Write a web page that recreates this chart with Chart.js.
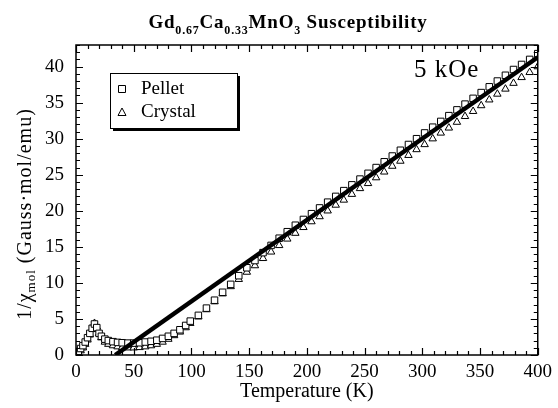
<!DOCTYPE html>
<html>
<head>
<meta charset="utf-8">
<script src="https://cdn.jsdelivr.net/npm/chart.js@4/dist/chart.umd.min.js"></script>
<style>
  html, body { margin: 0; padding: 0; background: #fff; }
</style>
</head>
<body>
<canvas id="chi" width="558" height="408"></canvas>
<script>
// temperature grid (K)
const temps = [1, 2, 4, 6, 8, 10, 12, 14, 16, 18, 20, 22, 25, 28, 32, 36, 40, 45, 50, 55, 60, 65, 70, 75, 80, 85, 90, 95,
  99, 106, 113, 120, 127, 134, 141, 148, 155, 162, 169, 176, 183, 190, 197, 204, 211, 218, 225, 232, 239, 246,
  253, 260, 267, 274, 281, 288, 295, 302, 309, 316, 323, 330, 337, 344, 351, 358, 365, 372, 379, 386, 393, 400];

// 1/chi_mol for the pellet sample
const pelletInv = [0.4, 0.5, 0.9, 1.3, 1.8, 2.4, 3.0, 3.7, 4.3, 3.8, 3.0, 2.6, 2.2, 2.0, 1.85, 1.75, 1.7, 1.65, 1.65, 1.7, 1.8, 1.9, 2.05, 2.3, 2.6, 3.0, 3.5, 4.1,
  4.7, 5.5, 6.5, 7.6, 8.7, 9.8, 11.0, 12.1, 13.1, 14.2, 15.2, 16.2, 17.1, 18.0, 18.8, 19.6, 20.4, 21.2, 22.0, 22.8, 23.6, 24.4,
  25.2, 26.0, 26.8, 27.6, 28.4, 29.2, 30.0, 30.8, 31.6, 32.4, 33.2, 34.0, 34.8, 35.6, 36.4, 37.2, 38.0, 38.8, 39.6, 40.3, 41.0, 41.8];

// 1/chi_mol for the crystal sample
const crystalInv = [0.2, 0.3, 0.6, 1.0, 1.5, 2.1, 2.8, 3.6, 4.4, 3.9, 3.0, 2.4, 1.8, 1.5, 1.3, 1.15, 1.05, 1.0, 1.0, 1.05, 1.15, 1.3, 1.5, 1.8, 2.2, 2.7, 3.2, 3.8,
  4.4, 5.3, 6.3, 7.4, 8.5, 9.5, 10.5, 11.5, 12.4, 13.4, 14.3, 15.2, 16.1, 16.9, 17.7, 18.5, 19.2, 20.0, 20.8, 21.5, 22.3, 23.1,
  23.8, 24.6, 25.4, 26.2, 26.9, 27.7, 28.5, 29.2, 30.0, 30.8, 31.5, 32.3, 33.1, 33.8, 34.6, 35.4, 36.2, 36.9, 37.7, 38.5, 39.2, 40.0];

// Curie-Weiss fit line end points
const fitT = [34, 400];
const fitInv = [0, 41.3];

const xTicks = [0, 50, 100, 150, 200, 250, 300, 350, 400];
const yTicks = [0, 5, 10, 15, 20, 25, 30, 35, 40];

const FONT = "'Liberation Serif', 'Times New Roman', serif";

const toPts = (xs, ys) => xs.map((t, i) => ({ x: t, y: ys[i] }));

// draws pieces of text, some of them as subscripts, centred on cx
function drawParts(ctx, parts, cx, base, bigFont, smallFont, drop, spacing) {
  ctx.letterSpacing = spacing + 'px';
  let w = 0;
  parts.forEach(p => { ctx.font = p[1] ? smallFont : bigFont; w += ctx.measureText(p[0]).width; });
  let px = cx - w / 2;
  parts.forEach(p => {
    ctx.font = p[1] ? smallFont : bigFont;
    ctx.fillText(p[0], px, p[1] ? base + drop : base);
    px += ctx.measureText(p[0]).width;
  });
  ctx.letterSpacing = '0px';
}

// frame, inside ticks, title, y title, legend, field label
const decor = {
  id: 'decor',
  afterDraw(chart) {
    const { ctx, chartArea: a, scales: { x, y } } = chart;
    ctx.save();
    ctx.strokeStyle = '#000';
    ctx.fillStyle = '#000';

    // ticks on all four sides
    ctx.lineWidth = 1.2;
    ctx.beginPath();
    for (let t = 0; t <= 400; t += 10) {
      const px = Math.round(x.getPixelForValue(t)) + 0.5;
      const len = t % 50 === 0 ? 7 : 4;
      ctx.moveTo(px, a.bottom); ctx.lineTo(px, a.bottom - len);
      ctx.moveTo(px, a.top); ctx.lineTo(px, a.top + len);
    }
    for (let v = 0; v <= 43; v++) {
      const py = Math.round(y.getPixelForValue(v)) + 0.5;
      const len = v % 5 === 0 ? 7 : 4;
      ctx.moveTo(a.left, py); ctx.lineTo(a.left + len, py);
      ctx.moveTo(a.right, py); ctx.lineTo(a.right - len, py);
    }
    ctx.stroke();
    ctx.lineWidth = 1.5;
    ctx.strokeRect(a.left, a.top, a.right - a.left, a.bottom - a.top);

    // title with subscripts
    ctx.textBaseline = 'alphabetic';
    ctx.textAlign = 'left';
    drawParts(ctx,
      [['Gd', 0], ['0.67', 1], ['Ca', 0], ['0.33', 1], ['MnO', 0], ['3', 1], [' Susceptibility', 0]],
      288, 28, 'bold 19px ' + FONT, 'bold 12px ' + FONT, 6, 0.8);

    // y axis title, rotated
    ctx.save();
    ctx.translate(31, 214);
    ctx.rotate(-Math.PI / 2);
    drawParts(ctx, [['1/\u03c7', 0], ['mol', 1], [' (Gauss\u00b7mol/emu)', 0]],
      0, 0, '20px ' + FONT, '13px ' + FONT, 4, 1);
    ctx.restore();

    // legend box with drop shadow
    const lx = 110, ly = 73, lw = 127, lh = 55;
    ctx.fillStyle = '#000';
    ctx.fillRect(lx + 3, ly + 3, lw, lh);
    ctx.fillStyle = '#fff';
    ctx.fillRect(lx, ly, lw, lh);
    ctx.lineWidth = 1;
    ctx.strokeRect(lx + 0.5, ly + 0.5, lw, lh);
    ctx.beginPath();
    ctx.rect(118.5, 85.5, 7, 7);
    ctx.moveTo(122, 108); ctx.lineTo(126, 115.5); ctx.lineTo(118, 115.5); ctx.closePath();
    ctx.stroke();
    ctx.fillStyle = '#000';
    ctx.font = '19px ' + FONT;
    ctx.textBaseline = 'middle';
    ctx.fillText('Pellet', 141, 89);
    ctx.fillText('Crystal', 141, 112);

    ctx.letterSpacing = '1px';
    ctx.font = '25px ' + FONT;
    ctx.fillText('5 kOe', 414, 70);
    ctx.letterSpacing = '0px';
    ctx.restore();
  }
};

new Chart(document.getElementById('chi'), {
  type: 'scatter',
  data: {
    datasets: [
      {
        label: 'Fit',
        type: 'line',
        data: toPts(fitT, fitInv),
        borderColor: '#000',
        borderWidth: 4.5,
        pointRadius: 0,
        order: 0
      },
      {
        label: 'Pellet',
        data: toPts(temps, pelletInv),
        pointStyle: 'rect',
        pointRadius: 4.6,
        backgroundColor: '#fff',
        borderColor: '#000',
        borderWidth: 1,
        order: 1
      },
      {
        label: 'Crystal',
        data: toPts(temps, crystalInv),
        pointStyle: 'triangle',
        pointRadius: 4.3,
        backgroundColor: '#fff',
        borderColor: '#000',
        borderWidth: 1,
        order: 2
      }
    ]
  },
  options: {
    responsive: false,
    animation: false,
    layout: { padding: { top: 45, right: 17, left: 0, bottom: 0 } },
    plugins: {
      legend: { display: false },
      tooltip: { enabled: false },
      title: { display: false }
    },
    scales: {
      x: {
        type: 'linear',
        min: 0,
        max: 400,
        afterBuildTicks: s => { s.ticks = xTicks.map(v => ({ value: v })); },
        afterFit: s => { s.height = 53; },
        grid: { display: false, drawTicks: false },
        border: { display: false },
        ticks: { color: '#000', font: { family: FONT, size: 19 }, padding: 6, maxRotation: 0, autoSkip: false },
        title: { display: true, text: 'Temperature (K)', color: '#000', font: { family: FONT, size: 20 }, padding: { top: 0, bottom: 4 } }
      },
      y: {
        type: 'linear',
        min: 0,
        max: 43,
        afterBuildTicks: s => { s.ticks = yTicks.map(v => ({ value: v })); },
        afterFit: s => { s.width = 76; },
        grid: { display: false, drawTicks: false },
        border: { display: false },
        ticks: { color: '#000', font: { family: FONT, size: 19 }, padding: 12 }
      }
    }
  },
  plugins: [decor]
});
</script>
</body>
</html>
